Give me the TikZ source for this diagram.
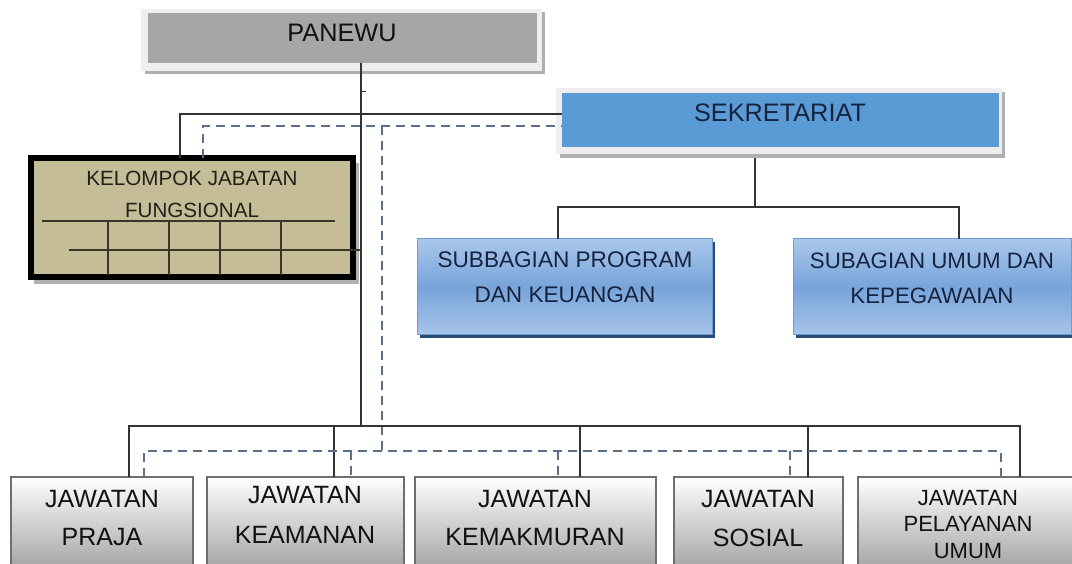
\documentclass[tikz,border=0pt]{standalone}
\usepackage{fontspec}
\setmainfont{Liberation Sans}
\definecolor{panfill}{HTML}{A6A6A6}
\definecolor{shadowgray}{HTML}{B0B0B0}
\definecolor{framegray}{HTML}{EEEEEE}
\definecolor{sekblue}{HTML}{5B9BD5}
\definecolor{subtop}{HTML}{A9C7EB}
\definecolor{submid}{HTML}{78A4DA}
\definecolor{subbot}{HTML}{A7C4E9}
\definecolor{subdraw}{HTML}{6E9BD0}
\definecolor{subshadow}{HTML}{284C78}
\definecolor{khaki}{HTML}{C4BD97}
\definecolor{gridline}{HTML}{3B3526}
\definecolor{dashblue}{HTML}{5C6F8A}
\definecolor{txtdark}{HTML}{111111}
\definecolor{navytxt}{HTML}{16233F}
\definecolor{jbot}{HTML}{9C9C9C}
\definecolor{jdraw}{HTML}{6E6E6E}
\begin{document}
\begin{tikzpicture}[x=1pt,y=-1pt,
  conn/.style={draw=black!80, line width=1.6pt},
  dconn/.style={draw=dashblue, line width=1.8pt, dash pattern=on 9pt off 6pt},
  box/.style={inner sep=0pt, outer sep=0pt, anchor=north west},
  subbox/.style={box, top color=subtop, bottom color=subbot, middle color=submid, draw=subdraw, line width=1pt, minimum height=96pt},
  jbox/.style={box, top color=white, bottom color=jbot, draw=jdraw, line width=1.5pt, minimum height=100pt},
  lbl/.style={inner sep=0pt, align=center, text=txtdark},
  big/.style={font=\fontsize{25.3}{29}\selectfont},
  jfont/.style={font=\fontsize{25}{38}\selectfont},
]
\useasboundingbox (0,0) rectangle (1072,564);
\clip (0,0) rectangle (1072,564);
\fill[white] (0,0) rectangle (1072,564);

% PANEWU
\fill[shadowgray] (145,12) rectangle (545,74);
\fill[framegray] (141,9) rectangle (542,71);
\node[box, fill=panfill, minimum width=389pt, minimum height=50pt] (panewu) at (148,13) {};
\node[lbl, big] (panewut) at (342,33) {PANEWU};

% SEKRETARIAT
\fill[shadowgray] (560,92) rectangle (1005,158);
\fill[framegray] (556,88) rectangle (1002,154);
\node[box, fill=sekblue, minimum width=437pt, minimum height=54pt] (sek) at (562,93) {};
\node[lbl, big, text=navytxt] (sekt) at (780,113) {SEKRETARIAT};

% Subbagian
\fill[subshadow] (420,242) rectangle (715,338);
\node[subbox, minimum width=295pt] (sp) at (417,239) {};
\node[lbl, text=navytxt, font=\fontsize{22.6}{35}\selectfont] (spt) at (565,277.5) {SUBBAGIAN PROGRAM\\DAN KEUANGAN};
\fill[subshadow] (796,242) rectangle (1075,338);
\node[subbox, minimum width=278pt] (su) at (793,239) {};
\node[lbl, text=navytxt, font=\fontsize{22.3}{35}\selectfont] (sut) at (932,278.5) {SUBAGIAN UMUM DAN\\KEPEGAWAIAN};

% Kelompok jabatan fungsional
\fill[black!30] (34,163) rectangle (359,284);
\node[box, fill=khaki, draw=black, line width=6pt, minimum width=322pt, minimum height=119pt] (kjf) at (31,158) {};
\node[lbl, text=gridline!60!black, font=\fontsize{20.6}{32}\selectfont] (kjft) at (192,194) {KELOMPOK JABATAN\\FUNGSIONAL};
\begin{scope}[draw=gridline, line width=1.8pt]
\draw (42,221) -- (335,221);
\draw (69,250) -- (361,250);
\foreach \gx in {108,169,220,281} \draw (\gx,221) -- (\gx,275);
\end{scope}

% bottom boxes
\node[jbox, minimum width=182pt] (jp) at (11,477) {};
\node[jbox, minimum width=197pt] (jk) at (207,477) {};
\node[jbox, minimum width=241pt] (jkm) at (415,477) {};
\node[jbox, minimum width=169pt] (js) at (674,477) {};
\node[jbox, minimum width=220pt] (jpu) at (858,477) {};
\node[lbl, jfont] (jpt) at (102,518) {JAWATAN\\PRAJA};
\node[lbl, font=\fontsize{25}{40}\selectfont] (jkt) at (305,515) {JAWATAN\\KEAMANAN};
\node[lbl, jfont] (jkmt) at (535,518) {JAWATAN\\KEMAKMURAN};
\node[lbl, font=\fontsize{25}{39}\selectfont] (jst) at (758,518.5) {JAWATAN\\SOSIAL};
\node[lbl, font=\fontsize{22}{26.5}\selectfont] (jput) at (968,524.5) {JAWATAN\\PELAYANAN\\UMUM};

% connectors
\coordinate (bus) at (361,426);
\coordinate (dbus) at (382,451);
\draw[conn] (panewu.south -| bus) -- (bus);
\draw[conn, line width=1pt] (361,92) -- (366,92);
\draw[conn] (kjf.north -| 180,0) -- (180,114) -- (sek.west |- 0,114);
\draw[dconn] (kjf.north -| 203,0) -- (203,126) -- (sek.west |- 0,126);
\draw[dconn] (382,126) -- (dbus);
\draw[conn] (755,158) -- (755,207);
\draw[conn] (sp.north -| 558,0) -- (558,207) -- (959,207) -- (su.north -| 959,0);
\draw[conn] (jp.north -| 129,0) -- (129,426) -- (1020,426) -- (jpu.north -| 1020,0);
\draw[conn] (334,426) -- (jk.north -| 334,0);
\draw[conn] (580,426) -- (jkm.north -| 580,0);
\draw[conn] (808,426) -- (js.north -| 808,0);
\draw[dconn] (jp.north -| 144,0) -- (144,451) -- (1001,451) -- (jpu.north -| 1001,0);
\draw[dconn] (351,451) -- (jk.north -| 351,0);
\draw[dconn] (558,451) -- (jkm.north -| 558,0);
\draw[dconn] (790,451) -- (js.north -| 790,0);
\end{tikzpicture}
\end{document}
